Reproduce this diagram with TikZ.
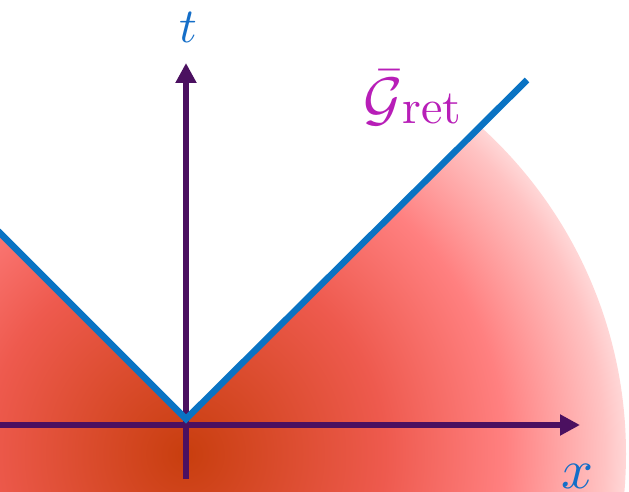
\documentclass[tikz,border=0pt]{standalone}
\usetikzlibrary{arrows.meta}
\definecolor{axiscol}{RGB}{75,16,96}
\definecolor{conecol}{RGB}{10,115,195}
\definecolor{labcol}{RGB}{184,30,184}
\definecolor{labblue}{RGB}{20,110,200}
\definecolor{gzero}{RGB}{200,62,14}
\definecolor{gone}{RGB}{238,90,78}
\definecolor{gtwo}{RGB}{255,128,128}
\definecolor{gthree}{RGB}{255,195,195}
\definecolor{gfour}{RGB}{255,215,215}
\pgfdeclareradialshading{glow}{\pgfpoint{0bp}{0bp}}{color(0bp)=(gzero); color(11.35bp)=(gone); color(18.15bp)=(gtwo); color(23.8bp)=(gthree); color(25bp)=(gfour); color(50bp)=(gfour)}
\begin{document}
\begin{tikzpicture}[x=1pt,y=-1pt,
  axis/.style={draw=axiscol,line width=6.5pt,-{Triangle[length=20pt,width=20pt]}},
  cone/.style={draw=conecol,line width=6.5pt},
  lab/.style={inner sep=0pt}]
\useasboundingbox (0,0) rectangle (629,492);
\fill[white] (0,0) rectangle (629,492);
\coordinate (O) at (186,419);
\coordinate (L) at (-2,231);
\coordinate (R) at (527,80);
\coordinate (xs) at (-5,425);
\coordinate (xe) at (580,425);
\coordinate (ts) at (186,479);
\coordinate (te) at (186,63);
\begin{scope}
\clip (-2,231) -- (186,419) -- (660,-55) -- (660,500) -- (-2,500) -- cycle;
\shade[shading=glow] (185,454) circle[radius=441];
\end{scope}
\draw[axis] (xs) -- (xe);
\draw[axis] (ts) -- (te);
\draw[cone] (L) -- (O) -- (R);
\node[lab,text=labblue,anchor=base] (tl) at (188,43) {\scalebox{4.9}{$t$}};
\node[lab,text=labblue,anchor=base] (xl) at (577,488) {\scalebox{5.6}{$x$}};
\node[lab,text=labcol,anchor=base west] (gl) at (363,120) {\scalebox{6}{$\bar{\mathcal G}$}\raisebox{-4pt}{\scalebox{4.8}{ret}}};
\end{tikzpicture}
\end{document}
